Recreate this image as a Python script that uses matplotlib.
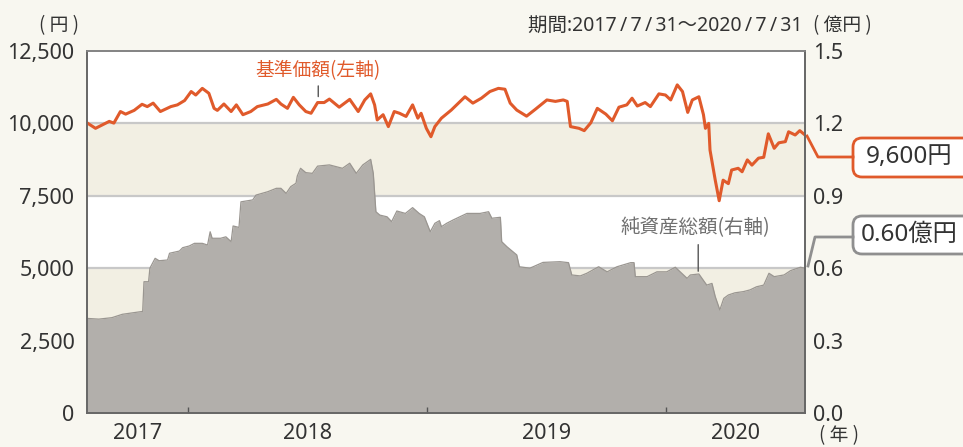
import matplotlib
matplotlib.use("Agg")
import matplotlib.pyplot as plt
from matplotlib.patches import FancyBboxPatch
from matplotlib.lines import Line2D
import pandas as pd

plt.rcParams["font.family"] = ["Noto Sans", "Noto Sans CJK JP", "DejaVu Sans"]
CJK = ["Noto Sans CJK JP", "DejaVu Sans"]

# 基準価額 (円, left axis)
nav_dates = [
    "2017-07-31", "2017-08-13", "2017-09-03", "2017-09-10", "2017-09-20", "2017-09-28",
    "2017-10-11", "2017-10-23", "2017-10-31", "2017-11-09", "2017-11-20", "2017-12-06",
    "2017-12-16", "2017-12-27", "2018-01-06", "2018-01-13", "2018-01-23", "2018-02-02",
    "2018-02-10", "2018-02-15", "2018-02-25", "2018-03-08", "2018-03-16", "2018-03-26",
    "2018-04-07", "2018-04-17", "2018-05-03", "2018-05-16", "2018-05-23", "2018-06-02",
    "2018-06-11", "2018-06-20", "2018-06-30", "2018-07-08", "2018-07-18", "2018-07-28",
    "2018-08-05", "2018-08-20", "2018-09-05", "2018-09-18", "2018-09-28", "2018-10-07",
    "2018-10-13", "2018-10-17", "2018-10-26", "2018-11-03", "2018-11-12", "2018-11-20",
    "2018-11-30", "2018-12-10", "2018-12-18", "2018-12-23", "2018-12-31", "2019-01-07",
    "2019-01-13", "2019-01-23", "2019-02-07", "2019-02-28", "2019-03-12", "2019-03-25",
    "2019-04-07", "2019-04-20", "2019-04-30", "2019-05-08", "2019-05-18", "2019-06-02",
    "2019-06-15", "2019-07-03", "2019-07-16", "2019-07-28", "2019-08-03", "2019-08-08",
    "2019-08-21", "2019-08-29", "2019-09-08", "2019-09-18", "2019-10-01", "2019-10-11",
    "2019-10-21", "2019-11-02", "2019-11-10", "2019-11-18", "2019-11-30", "2019-12-08",
    "2019-12-21", "2019-12-31", "2020-01-08", "2020-01-18", "2020-01-26", "2020-02-03",
    "2020-02-10", "2020-02-20", "2020-02-27", "2020-03-01", "2020-03-06", "2020-03-08",
    "2020-03-16", "2020-03-22", "2020-03-28", "2020-04-05", "2020-04-10", "2020-04-20",
    "2020-04-26", "2020-05-04", "2020-05-11", "2020-05-21", "2020-05-29", "2020-06-05",
    "2020-06-14", "2020-06-21", "2020-07-01", "2020-07-06", "2020-07-16", "2020-07-23",
    "2020-07-31",
]
nav_values = [
    10020, 9830, 10070, 10010, 10410, 10320,
    10450, 10660, 10580, 10700, 10410, 10580,
    10640, 10790, 11100, 10980, 11210, 11040,
    10520, 10450, 10670, 10410, 10640, 10300,
    10410, 10580, 10670, 10830, 10670, 10520,
    10900, 10640, 10410, 10350, 10720, 10720,
    10840, 10560, 10830, 10410, 10810, 11020,
    10640, 10120, 10300, 9890, 10410, 10350,
    10240, 10640, 10180, 10350, 9830, 9540,
    9890, 10180, 10460, 10920, 10700, 10870,
    11100, 11210, 11180, 10700, 10460, 10250,
    10480, 10810, 10760, 10810, 10760, 9890,
    9830, 9750, 10020, 10520, 10320, 10090,
    10560, 10640, 10870, 10600, 10720, 10580,
    11020, 10980, 10810, 11330, 11100, 10380,
    10810, 10920, 10300, 9830, 10000, 9080,
    8040, 7330, 8040, 7920, 8390, 8450,
    8330, 8740, 8560, 8800, 8830, 9640,
    9140, 9330, 9370, 9710, 9600, 9750,
    9600,
]

# 純資産総額 (億円, right axis)
aum_dates = [
    "2017-07-31", "2017-08-18", "2017-09-07", "2017-09-23", "2017-10-24", "2017-10-26",
    "2017-11-02", "2017-11-04", "2017-11-12", "2017-11-18", "2017-12-01", "2017-12-04",
    "2017-12-19", "2017-12-24", "2018-01-03", "2018-01-11", "2018-01-23", "2018-01-31",
    "2018-02-04", "2018-02-07", "2018-02-20", "2018-02-28", "2018-03-08", "2018-03-11",
    "2018-03-20", "2018-03-23", "2018-04-10", "2018-04-15", "2018-05-03", "2018-05-16",
    "2018-05-23", "2018-05-31", "2018-06-07", "2018-06-15", "2018-06-17", "2018-06-22",
    "2018-06-30", "2018-07-10", "2018-07-18", "2018-08-05", "2018-08-15", "2018-08-25",
    "2018-09-05", "2018-09-15", "2018-09-25", "2018-10-07", "2018-10-11", "2018-10-15",
    "2018-10-21", "2018-11-01", "2018-11-08", "2018-11-16", "2018-11-29", "2018-12-10",
    "2018-12-20", "2018-12-28", "2019-01-06", "2019-01-13", "2019-01-20", "2019-01-23",
    "2019-01-31", "2019-02-10", "2019-03-03", "2019-03-23", "2019-04-05", "2019-04-10",
    "2019-04-23", "2019-04-25", "2019-05-03", "2019-05-18", "2019-05-22", "2019-06-07",
    "2019-06-27", "2019-07-23", "2019-08-05", "2019-08-10", "2019-08-23", "2019-09-02",
    "2019-09-20", "2019-10-03", "2019-10-18", "2019-11-08", "2019-11-13", "2019-11-15",
    "2019-12-03", "2019-12-18", "2020-01-02", "2020-01-15", "2020-02-02", "2020-02-07",
    "2020-02-20", "2020-03-03", "2020-03-11", "2020-03-16", "2020-03-23", "2020-03-29",
    "2020-04-05", "2020-04-15", "2020-04-28", "2020-05-08", "2020-05-18", "2020-05-29",
    "2020-06-06", "2020-06-14", "2020-06-29", "2020-07-09", "2020-07-24", "2020-07-31",
]
aum_values = [
    0.392, 0.389, 0.395, 0.409, 0.421, 0.544,
    0.544, 0.600, 0.641, 0.631, 0.634, 0.662,
    0.671, 0.685, 0.692, 0.703, 0.703, 0.696,
    0.751, 0.724, 0.724, 0.730, 0.710, 0.775,
    0.769, 0.875, 0.883, 0.903, 0.917, 0.931,
    0.931, 0.910, 0.938, 0.952, 0.982, 1.014,
    0.996, 0.993, 1.023, 1.028, 1.021, 1.014,
    1.035, 0.993, 1.028, 1.051, 0.993, 0.834,
    0.820, 0.813, 0.793, 0.837, 0.827, 0.851,
    0.827, 0.813, 0.751, 0.786, 0.797, 0.772,
    0.786, 0.800, 0.827, 0.827, 0.834, 0.807,
    0.811, 0.710, 0.689, 0.655, 0.606, 0.600,
    0.624, 0.627, 0.623, 0.572, 0.568, 0.579,
    0.606, 0.585, 0.606, 0.623, 0.623, 0.565,
    0.565, 0.585, 0.585, 0.604, 0.558, 0.572,
    0.576, 0.530, 0.537, 0.482, 0.427, 0.475,
    0.489, 0.498, 0.503, 0.510, 0.523, 0.530,
    0.579, 0.565, 0.572, 0.590, 0.604, 0.600,
]

left_ticks = [0, 2500, 5000, 7500, 10000, 12500]
right_ticks = [0.0, 0.3, 0.6, 0.9, 1.2, 1.5]
year_labels = ["2017", "2018", "2019", "2020"]

BG = "#f8f7f0"
BAND = "#f2efe3"
ORANGE = "#e05a2b"
GRAY = "#b2afab"
TXT = "#333333"

nav_d = pd.to_datetime(nav_dates)
aum_d = pd.to_datetime(aum_dates)
start, end = pd.Timestamp("2017-07-31"), pd.Timestamp("2020-07-31")

fig = plt.figure(figsize=(9.63, 4.47), dpi=100, facecolor=BG)
ax = fig.add_axes([87 / 963, 1 - 413 / 447, 718 / 963, 362 / 447])
ax2 = ax.twinx()
ax.set_zorder(2)
ax2.set_zorder(1)
ax.patch.set_visible(False)
ax2.patch.set_visible(True)
ax2.patch.set_facecolor("white")

# background bands + boundary lines
for lo in (0.3, 0.9):
    ax2.axhspan(lo, lo + 0.3, color=BAND, lw=0, zorder=0)
for v in right_ticks[1:-1]:
    ax2.axhline(v, color="#c8c8c8", lw=1.6, zorder=0.5)

# net assets area
ax2.fill_between(aum_d, aum_values, 0, color=GRAY, lw=0, zorder=1)
ax2.plot(aum_d, aum_values, color="#9a9691", lw=0.9, zorder=1.1)

# NAV line
ax.plot(nav_d, nav_values, color=ORANGE, lw=2.2, solid_joinstyle="round")

ax.set_xlim(start, end)
ax.set_ylim(0, 12500)
ax2.set_ylim(0, 1.5)

ax.set_yticks(left_ticks)
ax.set_yticklabels([f"{v:,}" for v in left_ticks])
ax2.set_yticks(right_ticks)
ax2.set_yticklabels([f"{v:.1f}" for v in right_ticks])
ax.tick_params(axis="y", length=0, pad=9, labelsize=15.5, labelcolor=TXT)
ax2.tick_params(axis="y", length=0, pad=5.5, labelsize=15.5, labelcolor=TXT)

# year boundaries as ticks, labels centred in each visible year span
bounds = [pd.Timestamp(f"{y}-01-01") for y in (2018, 2019, 2020)]
edges = [start] + bounds + [end]
mids = [edges[i] + (edges[i + 1] - edges[i]) / 2 for i in range(len(edges) - 1)]
ax.set_xticks(bounds)
ax.set_xticklabels([])
ax.set_xticks(mids, minor=True)
ax.set_xticklabels(year_labels, minor=True)
ax.tick_params(axis="x", which="major", direction="in", length=4.5, width=1, color="#555555")
ax.tick_params(axis="x", which="minor", length=0, pad=7, labelsize=15.5, labelcolor=TXT)

for a in (ax, ax2):
    for s in a.spines.values():
        s.set_color("#666666")
        s.set_linewidth(1.2)
ax.spines["top"].set_color("#888888")

# series labels
d_nav_lbl = pd.Timestamp("2018-07-19")
ax.text(d_nav_lbl, 11830, "基準価額(左軸)", color=ORANGE, fontsize=13.5,
        ha="center", va="center", family=CJK)
ax.annotate("", xy=(d_nav_lbl, 10830), xytext=(d_nav_lbl, 11390),
            arrowprops=dict(arrowstyle="-", color="#555555", lw=1))

d_aum_lbl = pd.Timestamp("2020-02-19")
ax2.text(pd.Timestamp("2020-02-15"), 0.767, "純資産総額(右軸)", color="#707070",
         fontsize=14, ha="center", va="center", family=CJK)
ax2.annotate("", xy=(d_aum_lbl, 0.576), xytext=(d_aum_lbl, 0.709),
             arrowprops=dict(arrowstyle="-", color="#555555", lw=1))

# header / unit texts (pixel positions via inches)
T = fig.dpi_scale_trans


def P(x, y):
    return x / 100, (447 - y) / 100


fig.text(*P(59, 26), "( 円 )", transform=T, ha="center", va="center",
         fontsize=13.5, color=TXT, family=CJK)
period = "期間:2017\u2009/\u20097\u2009/\u200931～2020\u2009/\u20097\u2009/\u200931"
fig.text(*P(802, 26), period, transform=T, ha="right", va="center",
         fontsize=14, color=TXT, family=["Noto Sans", "Noto Sans CJK JP", "DejaVu Sans"])
fig.text(*P(842, 26), "( 億円 )", transform=T, ha="center", va="center",
         fontsize=13.5, color=TXT, family=CJK)
fig.text(*P(839, 436), "( 年 )", transform=T, ha="center", va="center",
         fontsize=13.5, color=TXT, family=CJK)


# callout boxes, clipped by the right edge of the figure
def callout(y_top, y_bot, label, ec, pts):
    box = FancyBboxPatch(P(853, y_bot), 1.4, (y_bot - y_top) / 100,
                         boxstyle="round,pad=0,rounding_size=0.09",
                         transform=T, fc="white", ec=ec, lw=2)
    fig.add_artist(box)
    fig.text(*P(909, (y_top + y_bot) / 2), label, transform=T, ha="center",
             va="center", fontsize=17.5, color=TXT)
    xs, ys = zip(*[P(x, y) for x, y in pts])
    fig.add_artist(Line2D(xs, ys, transform=T, color=ec, lw=2))


callout(138, 177, "9,600円", ORANGE, [(807, 136), (818, 157), (853, 157)])
callout(216, 254, "0.60億円", "#8f8f8f", [(808, 266), (815, 237), (853, 237)])

fig.savefig("out.png", dpi=100, facecolor=BG)
